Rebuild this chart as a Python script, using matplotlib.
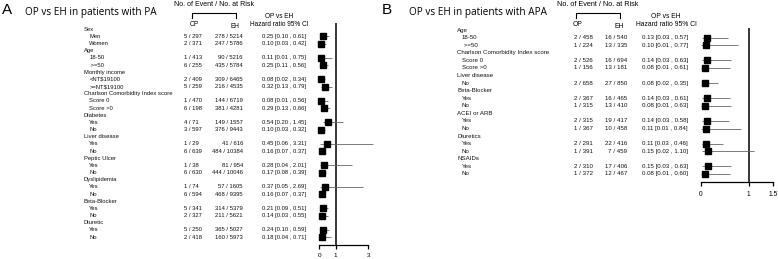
import matplotlib
matplotlib.use("Agg")
import matplotlib.pyplot as plt
from matplotlib.lines import Line2D
from matplotlib.transforms import blended_transform_factory

W, H = 778, 259

# ---------------- Panel A data ----------------
A_groups = ["Sex", "Age", "Monthly income", "Charlson Comorbidity Index score", "Diabetes",
            "Liver disease", "Peptic Ulcer", "Dyslipidemia", "Beta-Blocker", "Diuretic"]
A_sub = [["Men", "Women"], ["18-50", " >=50"], ["<NT$19100", ">=NT$19100"], ["Score 0", "Score >0"],
         ["Yes", "No"], ["Yes", "No"], ["Yes", "No"], ["Yes", "No"], ["Yes", "No"], ["Yes", "No"]]
A_op = ["5 / 297", "2 / 371", "1 / 413", "6 / 255", "2 / 409", "5 / 259", "1 / 470", "6 / 198",
        "4 / 71", "3 / 597", "1 / 29", "6 / 639", "1 / 38", "6 / 630", "1 / 74", "6 / 594",
        "5 / 341", "2 / 327", "5 / 250", "2 / 418"]
A_eh = ["278 / 5214", "247 / 5786", "90 / 5216", "435 / 5784", "309 / 6465", "216 / 4535",
        "144 / 6719", "381 / 4281", "149 / 1557", "376 / 9443", "41 / 616", "484 / 10384",
        "81 / 954", "444 / 10046", "57 / 1605", "468 / 9395", "314 / 5379", "211 / 5621",
        "365 / 5027", "160 / 5973"]
A_hr = [0.25, 0.10, 0.11, 0.25, 0.08, 0.32, 0.08, 0.29, 0.54, 0.10,
        0.45, 0.16, 0.28, 0.17, 0.37, 0.16, 0.21, 0.14, 0.24, 0.18]
A_lo = [0.10, 0.03, 0.01, 0.11, 0.02, 0.13, 0.01, 0.13, 0.20, 0.03,
        0.06, 0.07, 0.04, 0.08, 0.05, 0.07, 0.09, 0.03, 0.10, 0.04]
A_hi = [0.61, 0.42, 0.75, 0.56, 0.34, 0.79, 0.56, 0.66, 1.45, 0.32,
        3.31, 0.37, 2.01, 0.39, 2.69, 0.37, 0.51, 0.55, 0.59, 0.71]
A_ticks = [0, 1, 3]
A_ticklabels = ["0", "1", "3"]

# ---------------- Panel B data ----------------
B_groups = ["Age", "Charlson Comorbidity Index score", "Liver disease", "Beta-Blocker",
            "ACEI or ARB", "Diuretics", "NSAIDs"]
B_sub = [["18-50", " >=50"], ["Score 0", "Score >0"], ["No"], ["Yes", "No"], ["Yes", "No"],
         ["Yes", "No"], ["Yes", "No"]]
B_op = ["2 / 458", "1 / 224", "2 / 526", "1 / 156", "2 / 658", "2 / 367", "1 / 315",
        "2 / 315", "1 / 367", "2 / 291", "1 / 391", "2 / 310", "1 / 372"]
B_eh = ["16 / 540", "13 / 335", "16 / 694", "13 / 181", "27 / 850", "16 / 465", "13 / 410",
        "19 / 417", "10 / 458", "22 / 416", "7 / 459", "17 / 406", "12 / 467"]
B_hr = [0.13, 0.10, 0.14, 0.08, 0.08, 0.14, 0.08, 0.14, 0.11, 0.11, 0.15, 0.15, 0.08]
B_lo = [0.03, 0.01, 0.03, 0.01, 0.02, 0.03, 0.01, 0.03, 0.01, 0.03, 0.02, 0.03, 0.01]
B_hi = [0.57, 0.77, 0.63, 0.61, 0.35, 0.61, 0.63, 0.58, 0.84, 0.46, 1.10, 0.63, 0.60]
B_ticks = [0, 1, 1.5]
B_ticklabels = ["0", "1", "1.5"]

TFONT = "Liberation Sans"

fig = plt.figure(figsize=(W / 100, H / 100), dpi=100)
fig.patch.set_facecolor("white")


def fx(x):
    return x / W


def fy(y):
    return 1 - y / H


def panel(letter, title, letter_x, title_x, groups, subs, op, eh, hr, lo, hi,
          ticks, ticklabels, ax_px, xlim, ylim, cols, hdr, fs):
    l, t, r, b = ax_px
    ax = fig.add_axes([fx(l), fy(b), (r - l) / W, (b - t) / H])
    ax.set_xlim(*xlim)
    ax.set_ylim(*ylim)
    for s in ["left", "top", "right"]:
        ax.spines[s].set_visible(False)
    ax.spines["bottom"].set_bounds(ticks[0], ticks[-1])
    ax.spines["bottom"].set_linewidth(0.9)
    ax.set_yticks([])
    ax.set_xticks(ticks)
    ax.set_xticklabels(ticklabels, fontsize=fs + 0.4, family=TFONT)
    ax.tick_params(axis="x", length=3, width=0.9, pad=3.2)
    ax.patch.set_alpha(0)
    ax.axvline(1, color="black", lw=1.1)

    tr = blended_transform_factory(fig.transFigure, ax.transData)

    rows_label = []
    data_rows = []
    r_i = 0
    for g, sl in zip(groups, subs):
        rows_label.append((g, r_i, False))
        r_i += 1
        for s in sl:
            rows_label.append((s, r_i, True))
            data_rows.append(r_i)
            r_i += 1

    hx, sx, opx, ehx, hrx = cols
    for txt, ri, sub in rows_label:
        fig.text(fx(sx if sub else hx), ri, txt, transform=tr, fontsize=fs,
                 family=TFONT, va="center", ha="left", color="#111111")
    for k, ri in enumerate(data_rows):
        fig.text(fx(opx), ri, op[k], transform=tr, fontsize=fs, family=TFONT,
                 va="center", ha="left", color="#111111")
        fig.text(fx(ehx), ri, eh[k], transform=tr, fontsize=fs, family=TFONT,
                 va="center", ha="right", color="#111111")
        fig.text(fx(hrx), ri, f"{hr[k]:.2f} [{lo[k]:.2f} , {hi[k]:.2f}]", transform=tr,
                 fontsize=fs, family=TFONT, va="center", ha="left", color="#111111")

    ax.hlines(data_rows, lo, hi, color="#666666", lw=0.6, zorder=2)
    ax.plot(hr, data_rows, "s", color="black", ms=4.4, zorder=3)

    letter_y, title_y = 9.5, 12
    fig.text(fx(letter_x), fy(letter_y), letter, fontsize=11, family=TFONT,
             va="center", ha="left")
    fig.text(fx(title_x), fy(title_y), title, fontsize=7.2, family="Open Sans",
             va="center", ha="left")
    (nx, bl, br, opc, ehc, hrc) = hdr
    fig.text(fx(nx), fy(5), "No. of Event / No. at Risk", fontsize=fs + 0.8, family=TFONT,
             va="center", ha="center")
    fig.add_artist(Line2D([fx(bl), fx(bl), fx(br), fx(br)],
                          [fy(18), fy(12.7), fy(12.7), fy(18)], color="black", lw=0.8))
    fig.text(fx(opc), fy(24), "OP", fontsize=fs + 0.5, family=TFONT, va="center", ha="center")
    fig.text(fx(ehc), fy(26), "EH", fontsize=fs + 0.5, family=TFONT, va="center", ha="center")
    fig.text(fx(hrc), fy(16), "OP vs EH", fontsize=fs + 0.5, family=TFONT, va="center", ha="center")
    fig.text(fx(hrc), fy(25), "Hazard ratio 95% CI", fontsize=fs + 0.5, family=TFONT,
             va="center", ha="center")
    return ax


# Panel A: x px = 319.3 + 16.33*v ; y px = 29.2 + 7.17*row
panel("A", "OP vs EH in patients with PA", 2, 25, A_groups, A_sub, A_op, A_eh, A_hr, A_lo, A_hi,
      A_ticks, A_ticklabels,
      ax_px=(319.3 - 0.6 * 16.33, 29.2 - 0.82 * 7.17, 319.3 + 3.6 * 16.33, 29.2 + 30.08 * 7.17),
      xlim=(-0.6, 3.6), ylim=(30.08, -0.82),
      cols=(84, 89.3, 184, 243, 261.7), hdr=(213.7, 191.7, 235.7, 194, 235, 279), fs=4.2)

# Panel B: x px = 700.7 + 48*v ; y px = 30.1 + 7.57*row
panel("B", "OP vs EH in patients with APA", 382, 409, B_groups, B_sub, B_op, B_eh, B_hr, B_lo, B_hi,
      B_ticks, B_ticklabels,
      ax_px=(700.7 - 0.25 * 48, 30.1 - 0.24 * 7.57, 700.7 + 1.55 * 48, 30.1 + 20.1 * 7.57),
      xlim=(-0.25, 1.55), ylim=(20.1, -0.24),
      cols=(457.3, 462, 574, 627.3, 641.7), hdr=(598, 575.7, 620, 578, 619.5, 666), fs=4.4)

fig.savefig("out.png", dpi=100, facecolor="white")
